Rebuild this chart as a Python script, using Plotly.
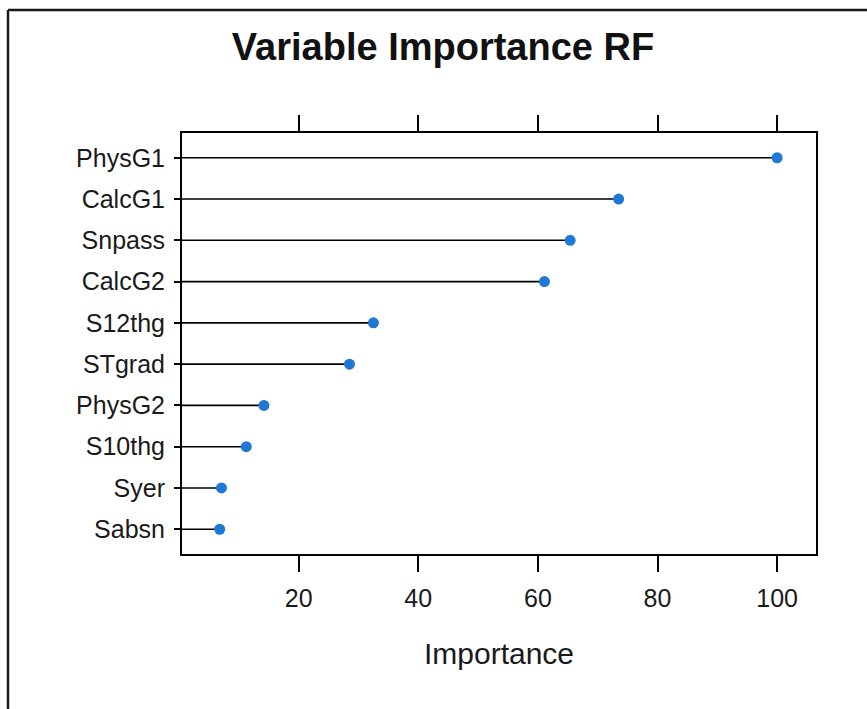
import plotly.graph_objects as go

# Variable importance scores (scaled 0-100), listed top to bottom
variables = ["PhysG1", "CalcG1", "Snpass", "CalcG2", "S12thg",
             "STgrad", "PhysG2", "S10thg", "Syer", "Sabsn"]
importance = [100.0, 73.5, 65.4, 61.1, 32.5, 28.5, 14.2, 11.25, 7.1, 6.8]
x_ticks = [20, 40, 60, 80, 100]

W, H = 867, 709
L, R, T, B = 182, 51, 133, 155
x_range = [0.5, 106.5]

n = len(variables)
# rows plotted bottom-up like a dotplot: first variable at the top
ypos = [n - i for i in range(n)]

fig = go.Figure()

# stems from the left edge of the panel to each value
lx, ly = [], []
for v, y in zip(importance, ypos):
    lx += [x_range[0], v, None]
    ly += [y, y, None]
fig.add_trace(go.Scatter(x=lx, y=ly, mode="lines",
                         line=dict(color="black", width=1.6),
                         hoverinfo="skip", showlegend=False))

fig.add_trace(go.Scatter(x=importance, y=ypos, mode="markers",
                         marker=dict(color="#1f78d4", size=11, symbol="circle",
                                     line=dict(width=0)),
                         showlegend=False))

pw = W - L - R
ph = H - T - B
# outer frame (top and left edges)
fx = (8 - L) / pw
fy = 1 + (T - 10) / ph
fig.add_shape(type="line", xref="paper", yref="paper",
              x0=fx, x1=fx, y0=fy, y1=-(B + 10) / ph,
              line=dict(color="#1a1a1a", width=2.5))
fig.add_shape(type="line", xref="paper", yref="paper",
              x0=fx, x1=1 + (R + 10) / pw, y0=fy, y1=fy,
              line=dict(color="#1a1a1a", width=2.5))

fig.update_layout(
    width=W, height=H,
    margin=dict(l=L, r=R, t=T, b=B),
    paper_bgcolor="white", plot_bgcolor="white",
    font=dict(family="Liberation Sans, Arial, sans-serif", color="#1a1a1a"),
    title=dict(text="<b>Variable Importance RF</b>", x=443 / W, xanchor="center",
               y=1 - 47 / H, yanchor="middle",
               font=dict(size=38, color="#111111")),
    xaxis=dict(range=x_range, tickvals=x_ticks, ticktext=[str(t) for t in x_ticks],
               showgrid=False, zeroline=False,
               showline=True, linecolor="black", linewidth=2, mirror="ticks",
               ticks="outside", ticklen=16, tickwidth=2, tickcolor="black",
               tickfont=dict(size=25), ticklabelstandoff=5,
               title=dict(text="Importance", font=dict(size=30), standoff=32)),
    yaxis=dict(range=[0.4, n + 0.6], tickvals=ypos, ticktext=variables,
               showgrid=False, zeroline=False,
               showline=True, linecolor="black", linewidth=2, mirror=True,
               ticks="outside", ticklen=6, tickwidth=1.5, tickcolor="black",
               tickfont=dict(size=25), ticklabelstandoff=4),
)

fig.write_html("out.html")
